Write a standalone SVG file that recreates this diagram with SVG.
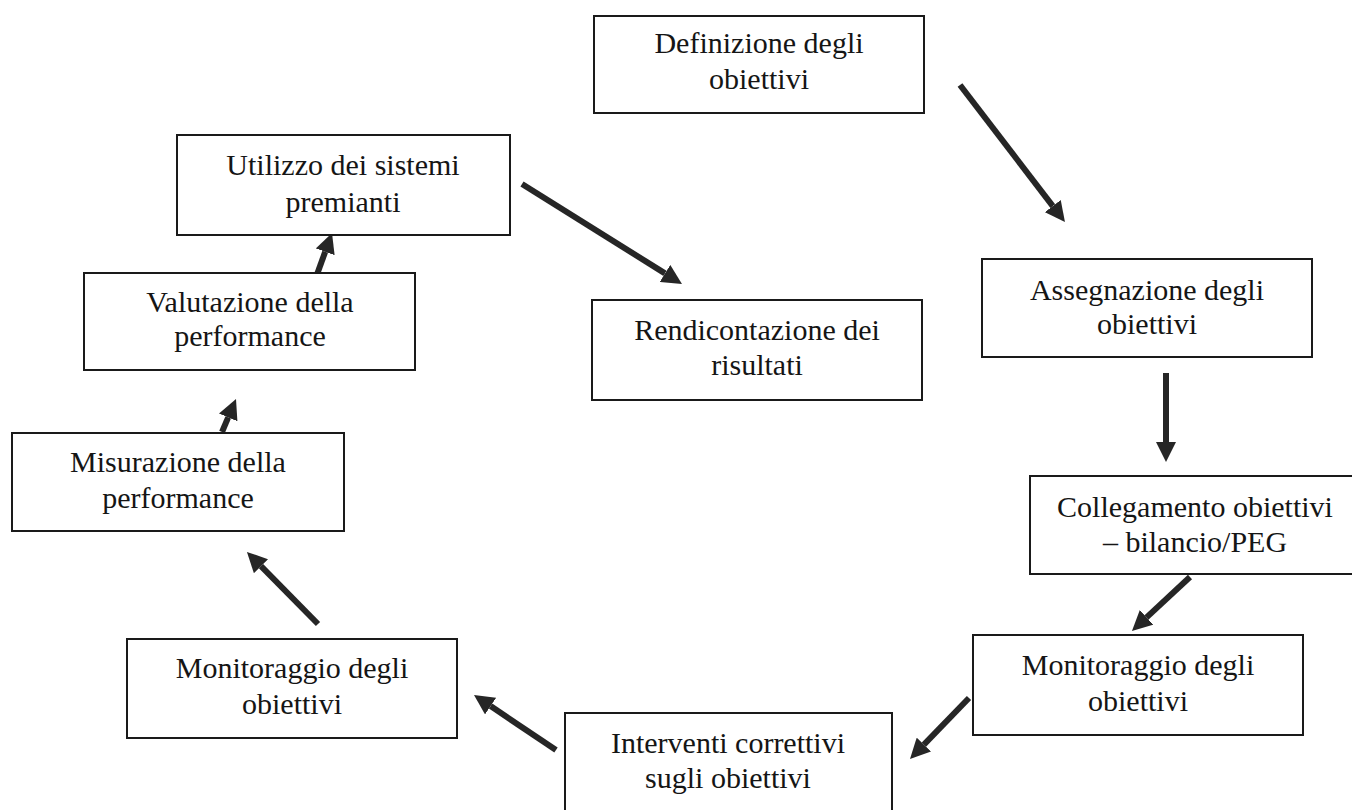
<svg xmlns="http://www.w3.org/2000/svg" width="1352" height="810" viewBox="0 0 1352 810">
<defs>
<style>
.box rect{fill:#fff;stroke:#1a1a1a;stroke-width:2}
.box text{font-family:"Liberation Serif","Times New Roman",serif;font-size:30px;fill:#151515;text-anchor:middle}
.conn line{stroke:#262626;stroke-width:6;stroke-linecap:butt;marker-end:url(#ah)}
</style>
<marker id="ah" markerUnits="userSpaceOnUse" markerWidth="20" markerHeight="20" viewBox="0 0 20 20" refX="0" refY="10" orient="auto">
<path d="M0,0 L20,10 L0,20 z" fill="#262626"/>
</marker>
</defs>
<rect width="1352" height="810" fill="#fff"/>
<g class="conn" id="connectors">
<line x1="960" y1="85" x2="1052.8" y2="206.1"/>
<line x1="1166" y1="373" x2="1166" y2="442"/>
<line x1="1190" y1="577" x2="1146.6" y2="617.4"/>
<line x1="969" y1="698" x2="923.9" y2="744.6"/>
<line x1="556" y1="750" x2="490.6" y2="706.1"/>
<line x1="318" y1="624" x2="261" y2="566.2"/>
<line x1="222" y1="432" x2="228.2" y2="417.4"/>
<line x1="315" y1="280" x2="325.2" y2="251.8"/>
<line x1="522" y1="184" x2="665" y2="273.4"/>
</g>
<g class="box" id="definizione">
<rect x="594" y="16" width="330" height="97"/>
<text x="759" y="53">Definizione degli</text>
<text x="759" y="89">obiettivi</text>
</g>
<g class="box" id="assegnazione">
<rect x="982" y="259" width="330" height="98"/>
<text x="1147" y="300">Assegnazione degli</text>
<text x="1147" y="334">obiettivi</text>
</g>
<g class="box" id="collegamento">
<rect x="1030" y="476" width="340" height="98"/>
<text x="1195" y="517">Collegamento obiettivi</text>
<text x="1195" y="552">– bilancio/PEG</text>
</g>
<g class="box" id="monitoraggio-r">
<rect x="973" y="635" width="330" height="100"/>
<text x="1138" y="675">Monitoraggio degli</text>
<text x="1138" y="711">obiettivi</text>
</g>
<g class="box" id="interventi">
<rect x="565" y="713" width="327" height="120"/>
<text x="728" y="753">Interventi correttivi</text>
<text x="728" y="788">sugli obiettivi</text>
</g>
<g class="box" id="monitoraggio-l">
<rect x="127" y="639" width="330" height="99"/>
<text x="292" y="678">Monitoraggio degli</text>
<text x="292" y="714">obiettivi</text>
</g>
<g class="box" id="misurazione">
<rect x="12" y="433" width="332" height="98"/>
<text x="178" y="472">Misurazione della</text>
<text x="178" y="508">performance</text>
</g>
<g class="box" id="valutazione">
<rect x="84" y="273" width="331" height="97"/>
<text x="250" y="312">Valutazione della</text>
<text x="250" y="346">performance</text>
</g>
<g class="box" id="utilizzo">
<rect x="177" y="135" width="333" height="100"/>
<text x="343" y="175">Utilizzo dei sistemi</text>
<text x="343" y="212">premianti</text>
</g>
<g class="box" id="rendicontazione">
<rect x="592" y="300" width="330" height="100"/>
<text x="757" y="340">Rendicontazione dei</text>
<text x="757" y="375">risultati</text>
</g>
</svg>
